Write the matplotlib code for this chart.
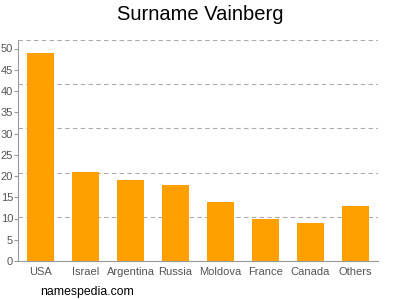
import matplotlib

matplotlib.use("Agg")
import matplotlib.pyplot as plt
import numpy as np

countries = ["USA", "Israel", "Argentina", "Russia", "Moldova", "France", "Canada", "Others"]
counts = [49, 21, 19, 18, 14, 10, 9, 13]
yticks = [0, 5, 10, 15, 20, 25, 30, 35, 40, 45, 50]

BAR = "#ffa000"
GRID = "#aaaaaa"
AXIS = "#999999"
TEXT = "#555555"

plt.rcParams.update({"font.family": "Liberation Sans"})
fig = plt.figure(figsize=(4, 3), dpi=100)
ax = fig.add_axes([18 / 400, 1 - 261 / 300, 360 / 400, 221 / 300])

x = np.arange(len(countries))
ax.bar(x, counts, width=0.62, color=BAR, zorder=2)

ymax = 52
ax.set_ylim(0, ymax)
ax.set_xlim(-0.5, len(countries) - 0.5)
for g in np.linspace(0, ymax, 6)[1:]:
    ax.axhline(g, color=GRID, lw=0.8, ls=(0, (4, 3)), zorder=1)

ax.set_yticks(yticks)
ax.set_yticklabels([str(t) for t in yticks], fontsize=8, color=TEXT)
ax.set_xticks(x)
ax.set_xticklabels(countries, fontsize=8, color=TEXT)
ax.tick_params(axis="y", length=3, color=AXIS, pad=0.5)
ax.tick_params(axis="x", length=0, pad=4)
for s in ("top", "right"):
    ax.spines[s].set_visible(False)
for s in ("left", "bottom"):
    ax.spines[s].set_color(AXIS)
    ax.spines[s].set_linewidth(0.8)

fig.text(0.5, 1 - 15 / 300, "Surname Vainberg", ha="center", va="center",
         fontsize=14.5, color="#000000")
fig.text(40 / 400, 1 - 292 / 300, "namespedia.com", ha="left", va="center",
         fontsize=8.8, color="#000000")

fig.savefig("out.png", dpi=100)
